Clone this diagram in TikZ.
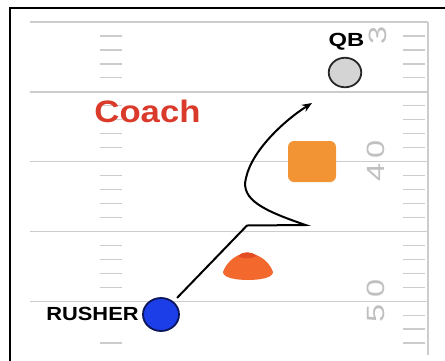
\documentclass[tikz,border=0pt]{standalone}
\usepackage{fontspec}
\setmainfont{Liberation Sans}
\usetikzlibrary{shapes.geometric,arrows.meta}
\definecolor{fieldgray}{RGB}{204,204,204}
\definecolor{numgray}{RGB}{192,192,192}
\definecolor{coachred}{RGB}{218,58,42}
\definecolor{boxorange}{RGB}{243,148,52}
\definecolor{conered}{RGB}{243,104,44}
\definecolor{conetop}{RGB}{228,76,34}
\definecolor{rusherblue}{RGB}{28,62,232}
\definecolor{rusheredge}{RGB}{12,22,90}
\definecolor{qbgray}{RGB}{212,212,212}
\definecolor{qbedge}{RGB}{40,40,40}

\begin{document}
\begin{tikzpicture}[x=1pt,y=-1pt,
  yardline/.style={draw=fieldgray,line width=1.4pt},
  hashmark/.style={draw=fieldgray,line width=1.3pt},
  yardnum/.style={text=numgray,font=\fontsize{25}{25}\selectfont,rotate=90,inner sep=0pt},
  tag/.style={font=\bfseries\fontsize{19}{19}\selectfont,inner sep=0pt,anchor=base},
  player/.style={ellipse,draw,line width=1.8pt,inner sep=0pt},
  route/.style={draw=black,line width=2pt,-{Stealth[length=10pt,width=8pt]}},
  frame/.style={draw=black,line width=2.5pt}
]
\useasboundingbox (0,0) rectangle (445,360);
\clip (0,0) rectangle (445,360);

% outer frame
\draw[frame] (10,380) -- (10,8) -- (470,8);

% yard lines and sideline
\foreach \y in {22,91.8,161.6,231.4,301.2}
  \draw[yardline] (30,\y) -- (428,\y);
\draw[yardline] (428,22) -- (428,355);

% hash marks
\foreach \y in {36,49.9,63.9,77.8,105.8,119.7,133.7,147.6,175.6,189.5,203.5,217.4,245.4,259.3,273.3,287.2,315.2,329.1,343.1}{
  \draw[hashmark] (100,\y) -- (122,\y);
  \draw[hashmark] (403,\y) -- (425,\y);
}

% yard numbers
\node[yardnum] (n3)  at (378,35)    {\scalebox{1.3}[1]{3}};
\node[yardnum] (n40a) at (376,172.5) {\scalebox{1.3}[1]{4}};
\node[yardnum] (n40b) at (376,149)   {\scalebox{1.3}[1]{0}};
\node[yardnum] (n50a) at (376,313)   {\scalebox{1.3}[1]{5}};
\node[yardnum] (n50b) at (376,288)   {\scalebox{1.3}[1]{0}};

% labels
\node[font=\bfseries\fontsize{31}{31}\selectfont,text=coachred,inner sep=0pt,anchor=base]
  (coach) at (147.5,122) {\scalebox{1.12}[1]{Coach}};
\node[tag] (qblabel) at (346.5,46) {\scalebox{1.25}[1]{QB}};
\node[tag,fill=white,text height=13pt,text depth=15pt,inner xsep=2pt]
  (rusherlabel) at (92.5,320) {\scalebox{1.15}[1]{RUSHER}};

% blocking pad
\node[fill=boxorange,rounded corners=6pt,minimum width=48pt,minimum height=41pt,inner sep=0pt]
  (pad) at (312,161.5) {};

% cone
\path[fill=conered] (223,272) .. controls (226,264) and (232,258) .. (239,255)
  .. controls (243,252) and (251,252) .. (256,255)
  .. controls (264,258) and (270,264) .. (273,272)
  .. controls (273,278) and (259,280) .. (248,280)
  .. controls (237,280) and (223,278) .. (223,272) -- cycle;
\path[fill=conetop] (238,256) .. controls (243,251) and (251,251) .. (257,256)
  .. controls (251,259) and (243,259) .. (238,256) -- cycle;

% players
\node[player,fill=qbgray,draw=qbedge,minimum width=32.5pt,minimum height=29.5pt] (qb) at (345,72.5) {};
\node[player,fill=rusherblue,draw=rusheredge,minimum width=36pt,minimum height=33pt] (rusher) at (161,314.5) {};

% rush route
\coordinate (cut) at (247,225.5);
\coordinate (plant) at (305.5,225);
\coordinate (bend) at (246,178);
\coordinate (aim) at (312,103);
\draw[route,shorten <=5pt] (rusher) -- (cut) -- (plant)
  .. controls (265,211) and (240,200) .. (bend)
  .. controls (252,150) and (285,120) .. (aim);
\end{tikzpicture}
\end{document}
